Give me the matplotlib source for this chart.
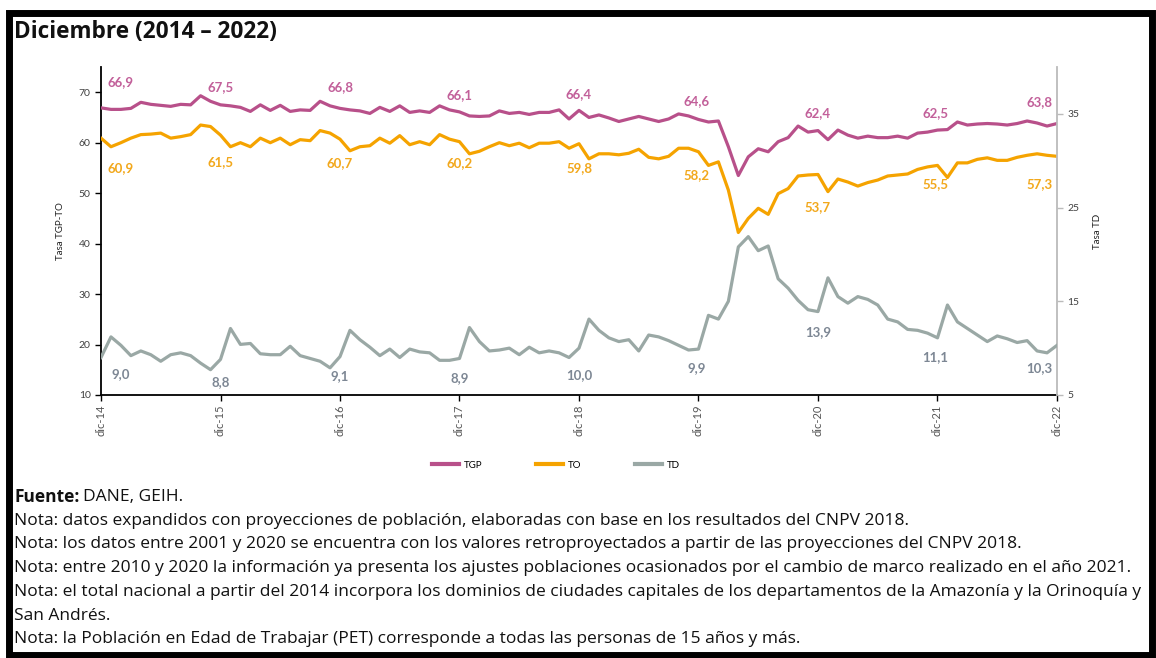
import matplotlib
matplotlib.use("Agg")
import matplotlib.pyplot as plt
from matplotlib.lines import Line2D
from matplotlib.patches import Rectangle

# ---------------- data ----------------
tick_labels = ["dic-14", "dic-15", "dic-16", "dic-17", "dic-18",
               "dic-19", "dic-20", "dic-21", "dic-22"]

tgp = [66.9, 66.6, 66.6, 66.8, 68.0, 67.6, 67.4, 67.2, 67.6, 67.5, 69.3, 68.2, 67.5,
       67.3, 67.0, 66.2, 67.5, 66.4, 67.4, 66.2, 66.5, 66.4, 68.2, 67.3, 66.8,
       66.5, 66.3, 65.8, 67.0, 66.2, 67.3, 66.0, 66.3, 66.0, 67.3, 66.5, 66.1,
       65.3, 65.2, 65.3, 66.3, 65.8, 66.0, 65.6, 66.0, 66.0, 66.5, 64.7, 66.4,
       65.0, 65.5, 64.9, 64.2, 64.7, 65.2, 64.7, 64.2, 64.7, 65.7, 65.3, 64.6,
       64.1, 64.3, 59.2, 53.5, 57.2, 58.8, 58.2, 60.2, 61.0, 63.3, 62.1, 62.4,
       60.6, 62.5, 61.5, 60.9, 61.3, 61.0, 61.0, 61.3, 60.9, 61.9, 62.1, 62.5,
       62.6, 64.1, 63.5, 63.7, 63.8, 63.7, 63.5, 63.8, 64.3, 63.9, 63.3, 63.8]

to = [60.9, 59.2, 60.0, 60.9, 61.6, 61.7, 61.9, 60.9, 61.2, 61.6, 63.5, 63.2, 61.5,
      59.2, 60.0, 59.2, 60.9, 60.0, 60.9, 59.6, 60.6, 60.4, 62.4, 61.9, 60.7,
      58.4, 59.2, 59.4, 60.9, 59.9, 61.4, 59.6, 60.2, 59.6, 61.6, 60.7, 60.2,
      57.8, 58.3, 59.2, 60.0, 59.4, 59.9, 59.0, 59.9, 59.9, 60.2, 58.9, 59.8,
      56.8, 57.8, 57.8, 57.6, 57.9, 58.7, 57.1, 56.8, 57.3, 58.9, 58.9, 58.2,
      55.5, 56.2, 50.6, 42.2, 45.0, 47.0, 45.8, 49.9, 50.9, 53.4, 53.6, 53.7,
      50.3, 52.8, 52.2, 51.4, 52.1, 52.6, 53.4, 53.6, 53.8, 54.7, 55.2, 55.5,
      53.1, 56.0, 56.0, 56.7, 57.0, 56.5, 56.5, 57.1, 57.5, 57.8, 57.5, 57.3]

td = [9.0, 11.2, 10.3, 9.2, 9.7, 9.3, 8.6, 9.3, 9.5, 9.2, 8.4, 7.7, 8.8,
      12.1, 10.4, 10.5, 9.4, 9.3, 9.3, 10.2, 9.2, 8.9, 8.6, 7.9, 9.1,
      11.9, 10.9, 10.1, 9.2, 9.9, 9.0, 9.9, 9.6, 9.5, 8.7, 8.7, 8.9,
      12.2, 10.7, 9.7, 9.8, 10.0, 9.3, 10.1, 9.5, 9.7, 9.5, 9.0, 10.0,
      13.1, 11.9, 11.1, 10.7, 10.9, 9.7, 11.4, 11.2, 10.8, 10.3, 9.8, 9.9,
      13.5, 13.1, 15.0, 20.8, 21.9, 20.4, 20.9, 17.4, 16.4, 15.1, 14.1, 13.9,
      17.5, 15.5, 14.8, 15.5, 15.2, 14.6, 13.1, 12.8, 12.0, 11.9, 11.6, 11.1,
      14.6, 12.8, 12.1, 11.4, 10.7, 11.3, 11.0, 10.6, 10.8, 9.7, 9.5, 10.3]

series_names = ["TGP", "TO", "TD"]

title = "Diciembre (2014 \u2013 2022)"
notes = [
    "Nota: datos expandidos con proyecciones de poblaci\u00f3n, elaboradas con base en los resultados del CNPV 2018.",
    "Nota: los datos entre 2001 y 2020 se encuentra con los valores retroproyectados a partir de las proyecciones del CNPV 2018.",
    "Nota: entre 2010 y 2020 la informaci\u00f3n ya presenta los ajustes poblaciones ocasionados por el cambio de marco realizado en el a\u00f1o 2021.",
    "Nota: el total nacional a partir del 2014 incorpora los dominios de ciudades capitales de los departamentos de la Amazon\u00eda y la Orinoqu\u00eda y",
    "San Andr\u00e9s.",
    "Nota: la Poblaci\u00f3n en Edad de Trabajar (PET) corresponde a todas las personas de 15 a\u00f1os y m\u00e1s.",
]

# ---------------- style / layout ----------------
C_TGP = "#B8508A"
C_TO = "#F5A300"
C_TD = "#9AA8A5"
C_TGP_T = "#C2609A"
C_TO_T = "#F2A81C"
C_TD_T = "#7D8794"
FONT = "Lato"

W, H = 1156, 658
fig = plt.figure(figsize=(W / 100, H / 100), dpi=100)
plt.rcParams["font.family"] = [FONT, "DejaVu Sans"]

ax = fig.add_axes([101 / W, 1 - 395 / H, (1057 - 101) / W, (395 - 67) / H])
ax2 = ax.twinx()

x = list(range(len(tgp)))
dec_idx = list(range(0, len(tgp), 12))

ax.plot(x, tgp, color=C_TGP, lw=2.3, solid_joinstyle="round", zorder=3)
ax.plot(x, to, color=C_TO, lw=2.3, solid_joinstyle="round", zorder=3)
ax2.plot(x, td, color=C_TD, lw=2.3, solid_joinstyle="round", zorder=3)

ax.set_xlim(0, len(tgp) - 1)
ax.set_ylim(10, 75)
ax2.set_ylim(5, 40)
ax.set_yticks([10, 20, 30, 40, 50, 60, 70])
ax2.set_yticks([5, 15, 25, 35])
ax.set_xticks(dec_idx)
ax.set_xticklabels(tick_labels, rotation=90, fontsize=8, color="#555555")

ax.spines["top"].set_visible(False)
ax2.spines["top"].set_visible(False)
ax.spines["right"].set_visible(False)
ax2.spines["left"].set_visible(False)
ax2.spines["bottom"].set_visible(False)
ax.spines["left"].set_linewidth(1.3)
ax.spines["bottom"].set_linewidth(1.3)
ax2.spines["right"].set_color("#BBBBBB")
ax2.spines["right"].set_linewidth(1.3)

ax.tick_params(axis="y", labelsize=7.5, labelcolor="#404040", length=4, width=1, direction="out")
ax.tick_params(axis="x", length=4, width=1, direction="out", pad=3)
ax2.tick_params(axis="y", labelsize=7.5, labelcolor="#404040", length=4, width=1,
                color="#BBBBBB", direction="out")

ax.set_ylabel("Tasa TGP-TO", fontsize=7, color="#222222", labelpad=10)
ax2.set_ylabel("Tasa TD", fontsize=7, color="#222222", labelpad=10)

# data labels (positions are layout in left-axis units)
lab_x = [2.0, 12.0, 24.0, 36.0, 48.0, 59.8, 72.0, 83.8, 94.2]
tgp_lab_y = [72.0, 71.0, 71.0, 69.4, 69.6, 68.2, 65.8, 65.8, 68.0]
to_lab_y = [55.0, 56.1, 55.9, 55.9, 55.0, 53.6, 47.2, 51.8, 51.8]
td_lab_y = [14.2, 12.6, 13.8, 13.4, 14.0, 15.3, 22.5, 17.5, 15.3]


def fmt(v):
    return f"{v:.1f}".replace(".", ",")


for k, i in enumerate(dec_idx):
    ax.text(lab_x[k], tgp_lab_y[k], fmt(tgp[i]), color=C_TGP_T, fontsize=9.5,
            fontweight="bold", ha="center", va="center", zorder=4)
    ax.text(lab_x[k], to_lab_y[k], fmt(to[i]), color=C_TO_T, fontsize=9.5,
            fontweight="bold", ha="center", va="center", zorder=4)
    ax.text(lab_x[k], td_lab_y[k], fmt(td[i]), color=C_TD_T, fontsize=9.5,
            fontweight="bold", ha="center", va="center", zorder=4)

handles = [Line2D([], [], color=c, lw=3) for c in (C_TGP, C_TO, C_TD)]
fig.legend(handles, series_names, loc="center", bbox_to_anchor=(556 / W, 1 - 465 / H),
           ncol=3, frameon=False, fontsize=7, handlelength=2.8, columnspacing=5.5,
           handletextpad=0.5)

r = fig.canvas.get_renderer()


def fit_text(xp, yp, s, target_w, size, **kw):
    t = fig.text(xp / W, 1 - yp / H, s, fontsize=size, ha="left", va="center",
                 color="#111111", **kw)
    w = t.get_window_extent(renderer=r).width
    t.set_fontsize(size * target_w / w)
    return t


# title
fit_text(14, 32, title, 263, 15, fontweight="bold", family=["Open Sans", "DejaVu Sans"])

# source and notes
y0 = 497
longest = fit_text(14, y0 + 23.7 * 3, notes[2], 1116, 11.5,
                   family=["Open Sans", "DejaVu Sans"])
note_size = longest.get_fontsize()
t = fig.text(14 / W, 1 - y0 / H, "Fuente:", fontsize=note_size, fontweight="bold",
             ha="left", va="center", color="#111111", family=["Open Sans", "DejaVu Sans"])
bb = t.get_window_extent(renderer=r)
fig.text(bb.x1 / W + 4 / W, 1 - y0 / H, "DANE, GEIH.", fontsize=note_size, ha="left",
         va="center", color="#111111", family=["Open Sans", "DejaVu Sans"])
for j, line in enumerate(notes):
    if j == 2:
        continue
    fig.text(14 / W, 1 - (y0 + 23.7 * (j + 1)) / H, line, fontsize=note_size, ha="left",
             va="center", color="#111111", family=["Open Sans", "DejaVu Sans"])

# frame
fig.patches.append(Rectangle((9 / W, 3 / H), (W - 13) / W, (H - 16) / H,
                             transform=fig.transFigure, fill=False, lw=5,
                             edgecolor="black"))

fig.savefig("out.png", dpi=100)
